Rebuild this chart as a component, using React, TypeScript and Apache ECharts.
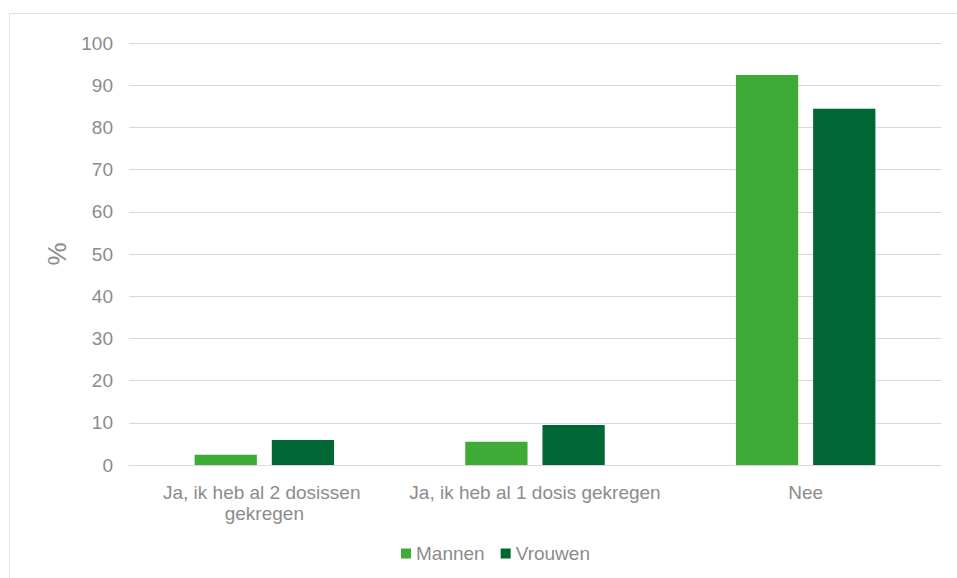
import React, { useEffect, useRef } from "react";
import * as echarts from "echarts";

const categories = [
  "Ja, ik heb al 2 dosissen gekregen",
  "Ja, ik heb al 1 dosis gekregen",
  "Nee",
];
const mannen = [2.4, 5.5, 92.4];
const vrouwen = [5.9, 9.5, 84.4];
const seriesNames = ["Mannen", "Vrouwen"];

const GREY = "#8c8c8c";
const FONT = "'Liberation Sans', Arial, sans-serif";

export default function App() {
  const ref = useRef<HTMLDivElement>(null);

  useEffect(() => {
    if (!ref.current) return;
    const chart = echarts.init(ref.current, null, { renderer: "svg" });
    chart.setOption({
      animation: false,
      backgroundColor: "#ffffff",
      textStyle: { fontFamily: FONT },
      graphic: [
        {
          type: "rect",
          shape: { x: 9.5, y: 13.5, width: 1000, height: 700 },
          style: { fill: "none", stroke: "#e2e2e2", lineWidth: 1 },
          silent: true,
        },
      ],
      grid: { left: 129, right: 16, top: 43, bottom: 113 },
      legend: {
        bottom: 10,
        left: 396,
        itemWidth: 10,
        itemHeight: 10,
        itemGap: 16,
        icon: "rect",
        textStyle: { color: GREY, fontSize: 19, fontFamily: FONT },
        data: seriesNames,
      },
      xAxis: {
        type: "category",
        data: categories,
        axisLine: { lineStyle: { color: "#d9d9d9", width: 1 } },
        axisTick: { show: false },
        axisLabel: {
          color: GREY,
          fontSize: 19,
          fontFamily: FONT,
          margin: 17,
          lineHeight: 21,
          width: 264,
          overflow: "break",
          interval: 0,
        },
      },
      yAxis: {
        type: "value",
        min: 0,
        max: 100,
        interval: 10,
        name: "%",
        nameLocation: "middle",
        nameRotate: 90,
        nameGap: 58,
        nameTextStyle: { color: GREY, fontSize: 26, fontFamily: FONT },
        axisLine: { show: false },
        axisTick: { show: false },
        axisLabel: { color: GREY, fontSize: 19, fontFamily: FONT, margin: 16 },
        splitLine: { lineStyle: { color: "#d9d9d9", width: 1 } },
      },
      series: [
        {
          name: seriesNames[0],
          type: "bar",
          data: mannen,
          barWidth: "23%",
          barGap: "24%",
          itemStyle: { color: "#3dab35" },
        },
        {
          name: seriesNames[1],
          type: "bar",
          data: vrouwen,
          barWidth: "23%",
          itemStyle: { color: "#006633" },
        },
      ],
    });
    return () => chart.dispose();
  }, []);

  return (
    <div
      ref={ref}
      style={{ position: "fixed", left: 0, top: 0, width: 957, height: 578 }}
    />
  );
}
